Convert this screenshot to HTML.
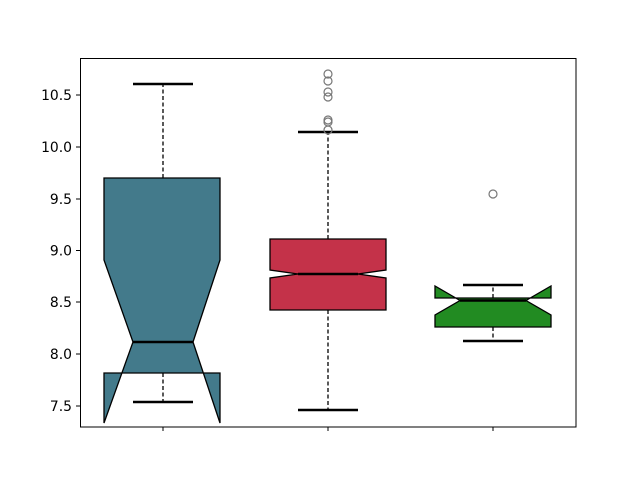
<!DOCTYPE html>
<html><head><meta charset="utf-8"><style>body{margin:0;background:#fff}svg{display:block}</style></head>
<body>
<svg width="640" height="480" xmlns="http://www.w3.org/2000/svg" font-family="DejaVu Sans, Liberation Sans, sans-serif">
<rect width="640" height="480" fill="#fff"/>
<!-- blue -->
<polygon points="104,373 104,423 133,342 104,260 104,178 220,178 220,260 193,342 220,423 220,373" fill="#437a8b" stroke="#000" stroke-width="1.3" stroke-linejoin="miter"/>
<line x1="163" y1="178" x2="163" y2="84" stroke="#000" stroke-width="1.3" stroke-dasharray="4,2.5"/>
<line x1="163" y1="373" x2="163" y2="402" stroke="#000" stroke-width="1.3" stroke-dasharray="4,2.5"/>
<line x1="133" y1="84" x2="193" y2="84" stroke="#000" stroke-width="2.5"/>
<line x1="133" y1="402" x2="193" y2="402" stroke="#000" stroke-width="2.5"/>
<line x1="133" y1="342" x2="193" y2="342" stroke="#000" stroke-width="2.5"/>
<!-- red -->
<polygon points="270,310 270,278 298,274 270,270 270,239 386,239 386,270 358,274 386,278 386,310" fill="#c43249" stroke="#000" stroke-width="1.3"/>
<line x1="328" y1="239" x2="328" y2="132" stroke="#000" stroke-width="1.3" stroke-dasharray="4,2.5"/>
<line x1="328" y1="310" x2="328" y2="410" stroke="#000" stroke-width="1.3" stroke-dasharray="4,2.5"/>
<line x1="298" y1="132" x2="358" y2="132" stroke="#000" stroke-width="2.5"/>
<line x1="298" y1="410" x2="358" y2="410" stroke="#000" stroke-width="2.5"/>
<line x1="298" y1="274" x2="358" y2="274" stroke="#000" stroke-width="2.5"/>
<g fill="none" stroke="#777" stroke-width="1.2">
<circle cx="328" cy="74" r="4"/><circle cx="328" cy="81" r="4"/><circle cx="328" cy="92" r="4"/><circle cx="328" cy="97" r="4"/><circle cx="328" cy="120" r="4"/><circle cx="328" cy="122" r="4"/><circle cx="328" cy="130" r="4"/>
<circle cx="493" cy="194" r="4"/>
</g>
<!-- green -->
<polygon points="435,327 435,315 460,300.5 435,286 435,298 551,298 551,286 526,300.5 551,315 551,327" fill="#228b22" stroke="#000" stroke-width="1.3"/>
<line x1="493" y1="298" x2="493" y2="285" stroke="#000" stroke-width="1.3" stroke-dasharray="4,2.5"/>
<line x1="493" y1="327" x2="493" y2="341" stroke="#000" stroke-width="1.3" stroke-dasharray="4,2.5"/>
<line x1="463" y1="285" x2="523" y2="285" stroke="#000" stroke-width="2.5"/>
<line x1="463" y1="341" x2="523" y2="341" stroke="#000" stroke-width="2.5"/>
<line x1="460" y1="300.5" x2="526" y2="300.5" stroke="#000" stroke-width="2.5"/>
<!-- axes -->
<rect x="80.5" y="58.5" width="495.5" height="368.5" fill="none" stroke="#000" stroke-width="1"/>
<g stroke="#000" stroke-width="1">
<line x1="163" y1="427" x2="163" y2="431"/><line x1="328" y1="427" x2="328" y2="431"/><line x1="493" y1="427" x2="493" y2="431"/>
<line x1="76" y1="406" x2="80" y2="406"/><line x1="76" y1="354" x2="80" y2="354"/><line x1="76" y1="302" x2="80" y2="302"/><line x1="76" y1="250.5" x2="80" y2="250.5"/><line x1="76" y1="199" x2="80" y2="199"/><line x1="76" y1="147" x2="80" y2="147"/><line x1="76" y1="95" x2="80" y2="95"/>
</g>
<g font-size="13.9" text-anchor="end" fill="#000">
<text x="72" y="411">7.5</text><text x="72" y="359">8.0</text><text x="72" y="307">8.5</text><text x="72" y="255.5">9.0</text><text x="72" y="204">9.5</text><text x="72" y="152">10.0</text><text x="72" y="100">10.5</text>
</g>
</svg>
</body></html>
